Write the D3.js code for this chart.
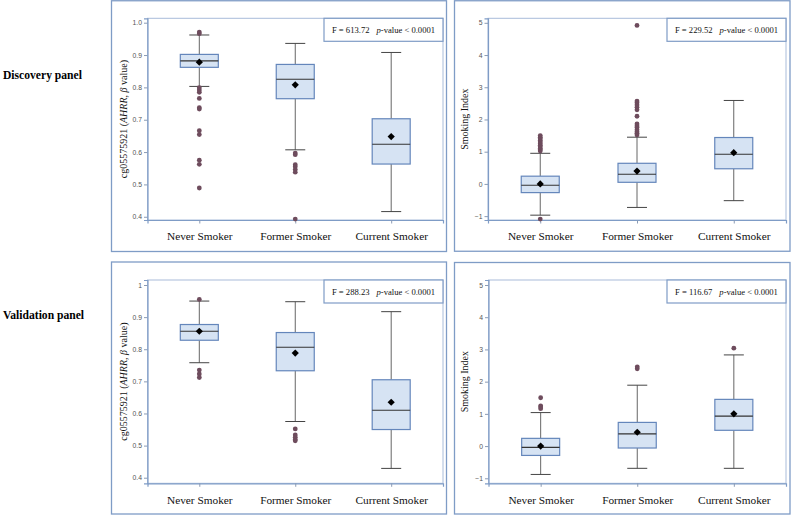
<!DOCTYPE html>
<html>
<head>
<meta charset="utf-8">
<script src="https://cdn.jsdelivr.net/npm/d3@7/dist/d3.min.js"></script>
<style>
  html, body { margin: 0; padding: 0; background: #fff; }
</style>
</head>
<body>
<div id="chart"></div>
<script>
// Categories shared by all four box plots
const categories = ["Never Smoker", "Former Smoker", "Current Smoker"];

// Five-number summaries per category: [low whisker, Q1, median, Q3, high whisker]
// Discovery panel - cg05575921 (AHRR)
const discAhrrFive = [[0.803, 0.862, 0.882, 0.902, 0.962], [0.607, 0.765, 0.825, 0.871, 0.936], [0.416, 0.563, 0.624, 0.703, 0.908]];
const discAhrrMean = [0.878, 0.808, 0.648];
const discAhrrOutliers = [
  [0.971, 0.966, 0.799, 0.792, 0.785, 0.766, 0.737, 0.733, 0.666, 0.654, 0.575, 0.562, 0.489],
  [0.597, 0.592, 0.561, 0.555, 0.546, 0.538, 0.393],
  []
];

// Discovery panel - Smoking Index
const discIndexFive = [[-0.97, -0.27, -0.04, 0.24, 0.95], [-0.73, 0.05, 0.3, 0.64, 1.45], [-0.52, 0.47, 0.92, 1.44, 2.59]];
const discIndexMean = [0.0, 0.4, 0.97];
const discIndexOutliers = [
  [1.02, 1.06, 1.1, 1.15, 1.2, 1.25, 1.3, 1.35, 1.4, 1.45, 1.5, -1.09],
  [1.52, 1.57, 1.62, 1.68, 1.75, 1.8, 1.86, 2.1, 2.3, 2.38, 2.45, 2.52, 2.57, 4.92],
  []
];

// Validation panel - cg05575921 (AHRR)
const valAhrrFive = [[0.758, 0.828, 0.856, 0.877, 0.95], [0.575, 0.733, 0.806, 0.852, 0.948], [0.429, 0.55, 0.61, 0.705, 0.917]];
const valAhrrMean = [0.856, 0.788, 0.635];
const valAhrrOutliers = [
  [0.955, 0.735, 0.723, 0.712],
  [0.552, 0.533, 0.526, 0.519, 0.515],
  []
];

// Validation panel - Smoking Index
const valIndexFive = [[-0.88, -0.29, -0.04, 0.24, 1.04], [-0.69, -0.06, 0.38, 0.735, 1.89], [-0.69, 0.49, 0.93, 1.45, 2.83]];
const valIndexMean = [0.0, 0.43, 1.0];
const valIndexOutliers = [
  [1.5, 1.25, 1.21, 1.16],
  [2.46, 2.4],
  [3.04]
];

// Axis ticks and F statistics
const ahrrTicks = [0.4, 0.5, 0.6, 0.7, 0.8, 0.9, 1.0];
const indexTicks = [-1, 0, 1, 2, 3, 4, 5];
const fValues = ["613.72", "229.52", "288.23", "116.67"];

// Colours
const frameColor = "#7f9cc6";
const boxFill = "#d6e3f3";
const boxStroke = "#6486bb";
const whiskerColor = "#666";
const outlierColor = "#6e4c5d";

const serif = "'Liberation Serif', 'Times New Roman', serif";
const sans = "'Liberation Sans', Arial, sans-serif";

const svg = d3.select("#chart")
  .append("svg")
  .attr("width", 792)
  .attr("height", 515);

// Panel layouts (outer frame + plot area)
const panels = [
  { frame: [111.5, 0.75, 335, 250.75], plot: [147.5, 18.3, 443, 220], domain: [0.39, 1.0136],
    ticks: ahrrTicks, fmt: d3.format(".1f"), title: "ahrr", five: discAhrrFive, mean: discAhrrMean, out: discAhrrOutliers, f: fValues[0] },
  { frame: [454.5, 0.75, 335.5, 250.5], plot: [488, 18.3, 786, 220], domain: [-1.12, 5.14],
    ticks: indexTicks, fmt: d3.format("d"), title: "index", five: discIndexFive, mean: discIndexMean, out: discIndexOutliers, f: fValues[1] },
  { frame: [111.5, 262, 335, 252], plot: [147.5, 280, 443, 483.3], domain: [0.3826, 1.0156],
    ticks: ahrrTicks, fmt: d => d === 1 ? "1" : d3.format(".1f")(d), title: "ahrr", five: valAhrrFive, mean: valAhrrMean, out: valAhrrOutliers, f: fValues[2] },
  { frame: [454.5, 262.5, 335.5, 251.5], plot: [488.5, 280, 786, 483.3], domain: [-1.155, 5.155],
    ticks: indexTicks, fmt: d3.format("d"), title: "index", five: valIndexFive, mean: valIndexMean, out: valIndexOutliers, f: fValues[3] }
];

function drawPanel(p) {
  const [x0, y0, x1, y1] = p.plot;

  svg.append("rect")
    .attr("x", p.frame[0]).attr("y", p.frame[1])
    .attr("width", p.frame[2]).attr("height", p.frame[3])
    .attr("fill", "none")
    .attr("stroke", frameColor)
    .attr("stroke-width", 1.3);

  const x = d3.scalePoint().domain(categories).range([x0, x1]).padding(0.54);
  const y = d3.scaleLinear().domain(p.domain).range([y1, y0]);

  const g = svg.append("g");

  // plot area border
  g.append("rect")
    .attr("x", x0).attr("y", y0)
    .attr("width", x1 - x0).attr("height", y1 - y0)
    .attr("fill", "none")
    .attr("stroke", "#a9bcda")
    .attr("stroke-width", 1);

  // y axis
  const yAxis = g.append("g")
    .attr("transform", `translate(${x0},0)`)
    .call(d3.axisLeft(y).tickValues(p.ticks).tickFormat(p.fmt).tickSize(3.5).tickPadding(2));
  yAxis.select(".domain").attr("stroke", frameColor).attr("stroke-width", 1.2);
  yAxis.selectAll(".tick line").attr("stroke", "#8a9bb5");
  yAxis.selectAll(".tick text")
    .attr("fill", "#555")
    .attr("font-family", sans)
    .attr("font-size", 6.8);

  // x axis
  const xAxis = g.append("g")
    .attr("transform", `translate(0,${y1})`)
    .call(d3.axisBottom(x).tickSize(3.5).tickPadding(6));
  xAxis.select(".domain").attr("stroke", frameColor).attr("stroke-width", 1.2);
  xAxis.selectAll(".tick line").attr("stroke", "#8a9bb5");
  xAxis.selectAll(".tick text")
    .attr("fill", "#111")
    .attr("font-family", serif)
    .attr("font-size", 11.3)
    .attr("dy", "0.95em");

  // y axis title
  const title = g.append("text")
    .attr("transform", `translate(${x0 - 20.5},${(y0 + y1) / 2}) rotate(-90)`)
    .attr("text-anchor", "middle")
    .attr("font-family", serif)
    .attr("font-size", 10)
    .attr("fill", "#111");
  if (p.title === "ahrr") {
    title.append("tspan").text("cg05575921 (");
    title.append("tspan").attr("font-style", "italic").text("AHRR");
    title.append("tspan").text(", ");
    title.append("tspan").attr("font-style", "italic").text("β");
    title.append("tspan").text(" value)");
  } else {
    title.text("Smoking Index");
  }

  // boxes
  const items = categories.map((c, i) => ({
    cat: c, five: p.five[i], mean: p.mean[i], out: p.out[i]
  }));
  const boxW = 38, capW = 20;

  const box = g.selectAll("g.box")
    .data(items)
    .enter()
    .append("g")
    .attr("class", "box")
    .attr("transform", d => `translate(${x(d.cat)},0)`);

  // whiskers
  box.append("line")
    .attr("x1", 0).attr("x2", 0)
    .attr("y1", d => y(d.five[4])).attr("y2", d => y(d.five[3]))
    .attr("stroke", whiskerColor).attr("stroke-width", 1);
  box.append("line")
    .attr("x1", 0).attr("x2", 0)
    .attr("y1", d => y(d.five[1])).attr("y2", d => y(d.five[0]))
    .attr("stroke", whiskerColor).attr("stroke-width", 1);
  box.selectAll("line.cap")
    .data(d => [d.five[0], d.five[4]])
    .enter()
    .append("line")
    .attr("class", "cap")
    .attr("x1", -capW / 2).attr("x2", capW / 2)
    .attr("y1", v => y(v)).attr("y2", v => y(v))
    .attr("stroke", "#444").attr("stroke-width", 1);

  box.append("rect")
    .attr("x", -boxW / 2)
    .attr("y", d => y(d.five[3]))
    .attr("width", boxW)
    .attr("height", d => y(d.five[1]) - y(d.five[3]))
    .attr("fill", boxFill)
    .attr("stroke", boxStroke)
    .attr("stroke-width", 1.2);

  // median
  box.append("line")
    .attr("x1", -boxW / 2).attr("x2", boxW / 2)
    .attr("y1", d => y(d.five[2])).attr("y2", d => y(d.five[2]))
    .attr("stroke", "#333").attr("stroke-width", 1.1);

  // outliers
  box.selectAll("circle")
    .data(d => d.out)
    .enter()
    .append("circle")
    .attr("cx", 0)
    .attr("cy", v => y(v))
    .attr("r", 2.4)
    .attr("fill", outlierColor);

  // mean marker (diamond)
  box.append("path")
    .attr("d", d3.symbol().type(d3.symbolSquare).size(26))
    .attr("transform", d => `translate(0,${y(d.mean)}) rotate(45)`)
    .attr("fill", "#000");

  // statistics inset
  const bx = x1 - 119, bh = 23;
  g.append("rect")
    .attr("x", bx).attr("y", y0)
    .attr("width", x1 - bx).attr("height", bh)
    .attr("fill", "#fff")
    .attr("stroke", frameColor)
    .attr("stroke-width", 1.2);
  const st = g.append("text")
    .attr("x", (bx + x1) / 2)
    .attr("y", y0 + bh / 2 + 3)
    .attr("text-anchor", "middle")
    .attr("font-family", serif)
    .attr("font-size", 8.6)
    .attr("fill", "#111");
  st.append("tspan").text(`F = ${p.f}`);
  st.append("tspan").attr("dx", 7).attr("font-style", "italic").text("p");
  st.append("tspan").text("-value < 0.0001");
}

panels.forEach(drawPanel);

// row labels
svg.selectAll("text.rowlabel")
  .data([["Discovery panel", 78.5], ["Validation panel", 318.5]])
  .enter()
  .append("text")
  .attr("class", "rowlabel")
  .attr("x", 3)
  .attr("y", d => d[1])
  .attr("font-family", serif)
  .attr("font-weight", "bold")
  .attr("font-size", 11.6)
  .attr("fill", "#000")
  .text(d => d[0]);
</script>
</body>
</html>
